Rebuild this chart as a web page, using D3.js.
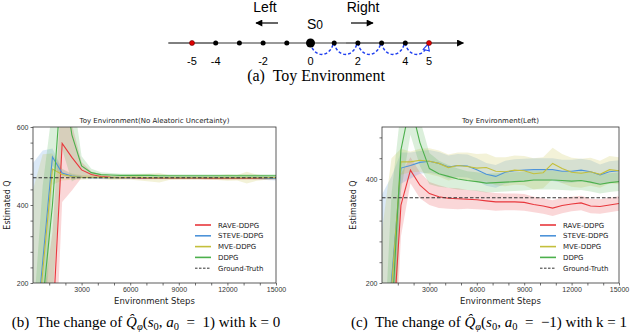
<!DOCTYPE html>
<html>
<head>
<meta charset="utf-8">
<script src="https://cdn.jsdelivr.net/npm/d3@7"></script>
<style>
body{margin:0;background:#fff;}
svg{display:block;font-family:"DejaVu Sans",sans-serif;}
.tick text{font-size:7px;fill:#333;}
.tick line{stroke:#333;stroke-width:0.7;}
.caption{font-family:"Liberation Serif",serif;font-size:15px;fill:#000;}
</style>
</head>
<body>
<svg id="fig" width="640" height="333"></svg>
<script>
// ---- data ----
const steps = [0,600,1200,1800,2400,3000,3600,4200,4800,5400,6000,6600,7200,7800,8400,9000,9600,10200,10800,11400,12000,12600,13200,13800,14400,15000];
const seriesNames = ['RAVE-DDPG','STEVE-DDPG','MVE-DDPG','DDPG'];
const seriesColors = ['#e8383d','#4d93d9','#c4bf3c','#4cb04c'];

// (b) a0 = 1, k = 0
const bRave     = [-400,-150,80,558,522,490,478,473,471,470,470,469,469,469,469,469,469,469,468,468,468,468,468,468,468,468];
const bRaveSd   = [300,300,250,150,85,20,8,5,4,3,3,3,3,3,3,3,3,3,3,3,3,3,3,3,3,3];
const bSteve    = [-12,255,523,482,474,471,470,470,470,470,470,470,470,470,470,470,470,470,470,470,470,470,470,470,469,468];
const bSteveSd  = [520,285,22,10,5,4,3,3,3,3,3,3,3,3,3,3,3,3,3,3,3,3,3,4,5,5];
const bMve      = [-60,230,492,478,473,471,471,471,470,470,471,471,470,470,470,470,470,470,470,470,470,470,470,470,470,470];
const bMveSd    = [500,300,40,15,8,6,5,5,6,5,6,8,10,12,6,5,5,5,5,6,8,7,15,8,5,4];
const bDdpg     = [-300,150,400,743,580,500,483,478,477,476,476,476,476,475,475,475,475,475,475,475,475,475,475,475,475,475];
const bDdpgSd   = [400,300,250,200,120,25,10,6,5,4,4,4,4,4,4,4,4,4,4,4,4,4,4,4,4,4];
const bTruth = 470;

// (c) a0 = -1, k = 1
const cRave     = [-100,60,350,417,388,372,366,363,362,361,360,358,356,356,356,355,351,348,344,349,352,354,348,347,350,353];
const cRaveSd   = [200,150,60,25,25,22,22,20,20,18,18,17,17,16,16,16,15,15,15,15,14,14,14,14,14,14];
const cSteve    = [-150,205,421,426,432,434,430,423,426,425,418,409,405,413,416,417,418,418,418,415,415,417,414,408,414,416];
const cSteveSd  = [520,200,30,25,22,22,22,22,22,22,22,22,22,22,22,22,22,22,22,22,22,22,22,20,20,20];
const cMve      = [-200,190,433,433,436,434,430,422,426,424,421,422,415,414,417,416,410,412,430,420,413,411,414,409,418,416];
const cMveSd    = [500,250,25,20,22,25,25,25,25,27,27,27,27,28,28,28,30,30,30,28,28,28,27,26,26,26];
const cDdpg     = [-300,120,456,545,470,420,410,405,400,397,395,392,393,394,395,396,398,398,398,397,396,397,394,390,393,395];
const cDdpgSd   = [300,250,80,60,45,30,25,22,20,18,18,18,18,18,18,18,18,18,18,18,18,18,18,18,18,18];
const cTruth = 364;

// toy environment number line
const statePoints = [-5,-4,-3,-2,-1,0,1,2,3,4,5];
const stateLabels = [-5,-4,-2,0,2,4,5];
const rightMoves = [0,1,2,3,4];

const svg = d3.select('#fig');
const defs = svg.append('defs');

// ---- (a) toy environment ----
function drawToy() {
	const x = d3.scaleLinear().domain([-5,5]).range([192,429]);
	const y0 = 43;
	const sans = '"Liberation Sans",Arial,sans-serif';
	const g = svg.append('g');

	defs.append('marker').attr('id','arrowBlack')
		.attr('viewBox','0 0 10 10').attr('refX',9).attr('refY',5)
		.attr('markerWidth',9).attr('markerHeight',7).attr('markerUnits','userSpaceOnUse')
		.attr('orient','auto')
		.append('path').attr('d','M0,0L10,5L0,10z').attr('fill','#000');
	defs.append('marker').attr('id','arrowBlue')
		.attr('viewBox','0 0 10 10').attr('refX',9).attr('refY',5)
		.attr('markerWidth',8).attr('markerHeight',8).attr('markerUnits','userSpaceOnUse')
		.attr('orient','auto')
		.append('path').attr('d','M1,1L9,5L1,9z').attr('fill','#fff').attr('stroke','#1f3ff0').attr('stroke-width',1.4);

	g.append('line')
		.attr('x1',x(-6)).attr('x2',x(6.45)).attr('y1',y0).attr('y2',y0)
		.attr('stroke','#000').attr('stroke-width',1)
		.attr('marker-end','url(#arrowBlack)');
	g.append('line')
		.attr('x1',x(-4)).attr('x2',x(1.5)).attr('y1',y0).attr('y2',y0)
		.attr('stroke','#999').attr('stroke-width',2);

	// blue dashed hops to the right
	g.selectAll('.hop').data(rightMoves).enter().append('path')
		.attr('class','hop')
		.attr('d', d => {
			const a = x(d), b = x(d+1);
			return `M${a},${y0}C${a+3},${y0+15} ${b-5},${y0+15} ${b-1},${y0+1}`;
		})
		.attr('fill','none').attr('stroke','#1f3ff0').attr('stroke-width',1.5)
		.attr('stroke-dasharray','3,2')
		.attr('marker-end', d => d === 4 ? 'url(#arrowBlue)' : null);

	g.selectAll('.state').data(statePoints).enter().append('circle')
		.attr('class','state')
		.attr('cx', d => x(d)).attr('cy', y0)
		.attr('r', d => d === 0 ? 4.5 : 2.5)
		.attr('fill', d => Math.abs(d) === 5 ? '#e00000' : '#000')
		.attr('stroke', d => Math.abs(d) === 5 ? '#600' : 'none').attr('stroke-width',0.6);

	g.selectAll('.slab').data(stateLabels).enter().append('text')
		.attr('class','slab')
		.attr('x', d => x(d)).attr('y', 65)
		.attr('text-anchor','middle')
		.style('font-family',sans).style('font-size','11px')
		.text(d => d);

	g.append('text').attr('x',265).attr('y',12).attr('text-anchor','middle')
		.style('font-family',sans).style('font-size','14px').text('Left');
	g.append('text').attr('x',363).attr('y',12).attr('text-anchor','middle')
		.style('font-family',sans).style('font-size','14px').text('Right');
	const s0 = g.append('text').attr('x',315).attr('y',29).attr('text-anchor','middle')
		.style('font-family',sans).style('font-size','14px');
	s0.append('tspan').text('S');
	s0.append('tspan').style('font-size','12px').text('0');

	g.append('line').attr('x1',278).attr('x2',256).attr('y1',23).attr('y2',23)
		.attr('stroke','#000').attr('stroke-width',1.2).attr('marker-end','url(#arrowBlack)');
	g.append('line').attr('x1',351).attr('x2',373).attr('y1',23).attr('y2',23)
		.attr('stroke','#000').attr('stroke-width',1.2).attr('marker-end','url(#arrowBlack)');

	g.append('text').attr('class','caption').attr('x',316).attr('y',81)
		.attr('text-anchor','middle').style('font-size','16px')
		.attr('xml:space','preserve').text('(a)  Toy Environment');
}

// ---- Q estimate panel factory ----
function QPanel() {
	let _box = {x:0,y:0,w:100,h:100};
	let _yDomain = [200,600];
	let _yTicks = [];
	let _yLabels = [];
	let _title = '';
	let _truth = 0;
	let _series = [];
	let _legend = {x:0,y:0};
	let _yLabelX = 0;
	let _id = 'p';

	function exports(g) {
		const b = _box;
		const scaleX = d3.scaleLinear().domain([0,15000]).range([0,b.w]);
		const scaleY = d3.scaleLinear().domain(_yDomain).range([b.h,0]);

		const plot = g.append('g').attr('transform',`translate(${b.x},${b.y})`);

		defs.append('clipPath').attr('id','clip-'+_id)
			.append('rect').attr('width',b.w).attr('height',b.h);
		const inner = plot.append('g').attr('clip-path',`url(#clip-${_id})`);

		const area = d3.area()
			.x((d,i) => scaleX(steps[i]))
			.y0(d => scaleY(d.m - d.s))
			.y1(d => scaleY(d.m + d.s));
		const line = d3.line()
			.x((d,i) => scaleX(steps[i]))
			.y(d => scaleY(d.m));

		const packed = _series.map(s => ({
			color: s.color,
			pts: s.mean.map((m,i) => ({m:m, s:s.sd[i]}))
		}));

		inner.selectAll('.band').data(packed).enter().append('path')
			.attr('class','band')
			.attr('d', d => area(d.pts))
			.attr('fill', d => d.color).attr('fill-opacity',0.2);

		inner.selectAll('.mean').data(packed).enter().append('path')
			.attr('class','mean')
			.attr('d', d => line(d.pts))
			.attr('fill','none').attr('stroke', d => d.color).attr('stroke-width',1.1);

		inner.append('line')
			.attr('x1',0).attr('x2',b.w)
			.attr('y1',scaleY(_truth)).attr('y2',scaleY(_truth))
			.attr('stroke','#333').attr('stroke-width',1.1).attr('stroke-dasharray','3.5,2');

		// axes
		const axisX = d3.axisBottom(scaleX)
			.tickValues(d3.range(1000,15001,1000))
			.tickSize(2.5).tickPadding(2)
			.tickFormat(d => d % 3000 === 0 ? d : '');
		plot.append('g').attr('transform',`translate(0,${b.h})`).call(axisX)
			.call(s => s.select('.domain').remove());

		const axisY = d3.axisLeft(scaleY)
			.tickValues(_yTicks)
			.tickSize(2.5).tickPadding(2)
			.tickFormat(d => _yLabels.includes(d) ? d : '');
		plot.append('g').call(axisY)
			.call(s => s.select('.domain').remove());

		plot.append('rect').attr('width',b.w).attr('height',b.h)
			.attr('fill','none').attr('stroke','#333').attr('stroke-width',0.8);

		plot.append('text').attr('x',b.w/2).attr('y',-4).attr('text-anchor','middle')
			.style('font-size','7px').attr('fill','#222').text(_title);
		plot.append('text').attr('x',b.w/2).attr('y',b.h+21).attr('text-anchor','middle')
			.style('font-size','8.5px').attr('fill','#222').text('Environment Steps');
		plot.append('text')
			.attr('transform',`translate(${_yLabelX - b.x},${b.h/2}) rotate(-90)`)
			.attr('text-anchor','middle')
			.style('font-size','8px').attr('fill','#222').text('Estimated Q');

		// legend
		const lg = g.append('g').attr('transform',`translate(${_legend.x},${_legend.y})`);
		const rows = _series.concat([{name:'Ground-Truth', color:'#333', dash:true}]);
		const row = lg.selectAll('.lrow').data(rows).enter().append('g')
			.attr('class','lrow')
			.attr('transform',(d,i) => `translate(0,${i*10.8})`);
		row.append('line').attr('x1',0).attr('x2',16).attr('y1',0).attr('y2',0)
			.attr('stroke', d => d.color).attr('stroke-width', d => d.dash ? 1 : 1.6)
			.attr('stroke-dasharray', d => d.dash ? '2.5,1.5' : null);
		row.append('text').attr('x',23).attr('y',2.5)
			.style('font-size','7px').attr('fill','#222').text(d => d.name);
	}

	exports.box = function(_) { if (typeof _ === 'undefined') return _box; _box = _; return this; };
	exports.yDomain = function(_) { if (typeof _ === 'undefined') return _yDomain; _yDomain = _; return this; };
	exports.yTicks = function(_) { if (typeof _ === 'undefined') return _yTicks; _yTicks = _; return this; };
	exports.yLabels = function(_) { if (typeof _ === 'undefined') return _yLabels; _yLabels = _; return this; };
	exports.yLabelX = function(_) { if (typeof _ === 'undefined') return _yLabelX; _yLabelX = _; return this; };
	exports.title = function(_) { if (typeof _ === 'undefined') return _title; _title = _; return this; };
	exports.truth = function(_) { if (typeof _ === 'undefined') return _truth; _truth = _; return this; };
	exports.series = function(_) { if (typeof _ === 'undefined') return _series; _series = _; return this; };
	exports.legend = function(_) { if (typeof _ === 'undefined') return _legend; _legend = _; return this; };
	exports.id = function(_) { if (typeof _ === 'undefined') return _id; _id = _; return this; };

	return exports;
}

function makeSeries(means, sds) {
	return seriesNames.map((name,i) => ({name:name, color:seriesColors[i], mean:means[i], sd:sds[i]}));
}

drawToy();

const panelB = QPanel()
	.id('b')
	.box({x:33,y:127,w:243,h:156})
	.yDomain([200,600])
	.yTicks(d3.range(200,601,40))
	.yLabels([200,400,600])
	.yLabelX(9.5)
	.title('Toy Environment(No Aleatoric Uncertainty)')
	.truth(bTruth)
	.legend({x:195,y:225})
	.series(makeSeries([bRave,bSteve,bMve,bDdpg],[bRaveSd,bSteveSd,bMveSd,bDdpgSd]));
svg.append('g').call(panelB);

const panelC = QPanel()
	.id('c')
	.box({x:382,y:127,w:237,h:156})
	.yDomain([200,500])
	.yTicks(d3.range(200,481,40))
	.yLabels([200,400])
	.yLabelX(356)
	.title('Toy Environment(Left)')
	.truth(cTruth)
	.legend({x:540,y:225})
	.series(makeSeries([cRave,cSteve,cMve,cDdpg],[cRaveSd,cSteveSd,cMveSd,cDdpgSd]));
svg.append('g').call(panelC);

// captions, laid out left-aligned then centred on the panel via bbox
function caption(cx, letter, action, k) {
	const t = svg.append('text').attr('class','caption').attr('x',0).attr('y',327)
		.attr('xml:space','preserve');
	t.append('tspan').text(`(${letter})  The change of `);
	t.append('tspan').style('font-style','italic').text('Q\u0302');
	t.append('tspan').style('font-style','italic').style('font-size','10.5px').attr('dy',3).text('\u03c6');
	t.append('tspan').attr('dy',-3).text('(');
	t.append('tspan').style('font-style','italic').text('s');
	t.append('tspan').style('font-size','10.5px').attr('dy',3).text('0');
	t.append('tspan').attr('dy',-3).text(', ');
	t.append('tspan').style('font-style','italic').text('a');
	t.append('tspan').style('font-size','10.5px').attr('dy',3).text('0');
	t.append('tspan').attr('dy',-3).text(`  =  ${action}) with k = ${k}`);
	const bb = t.node().getBBox();
	t.attr('x', cx - bb.width/2);
}
caption(146,'b','1',0);
caption(489,'c','\u22121',1);
</script>
</body>
</html>
